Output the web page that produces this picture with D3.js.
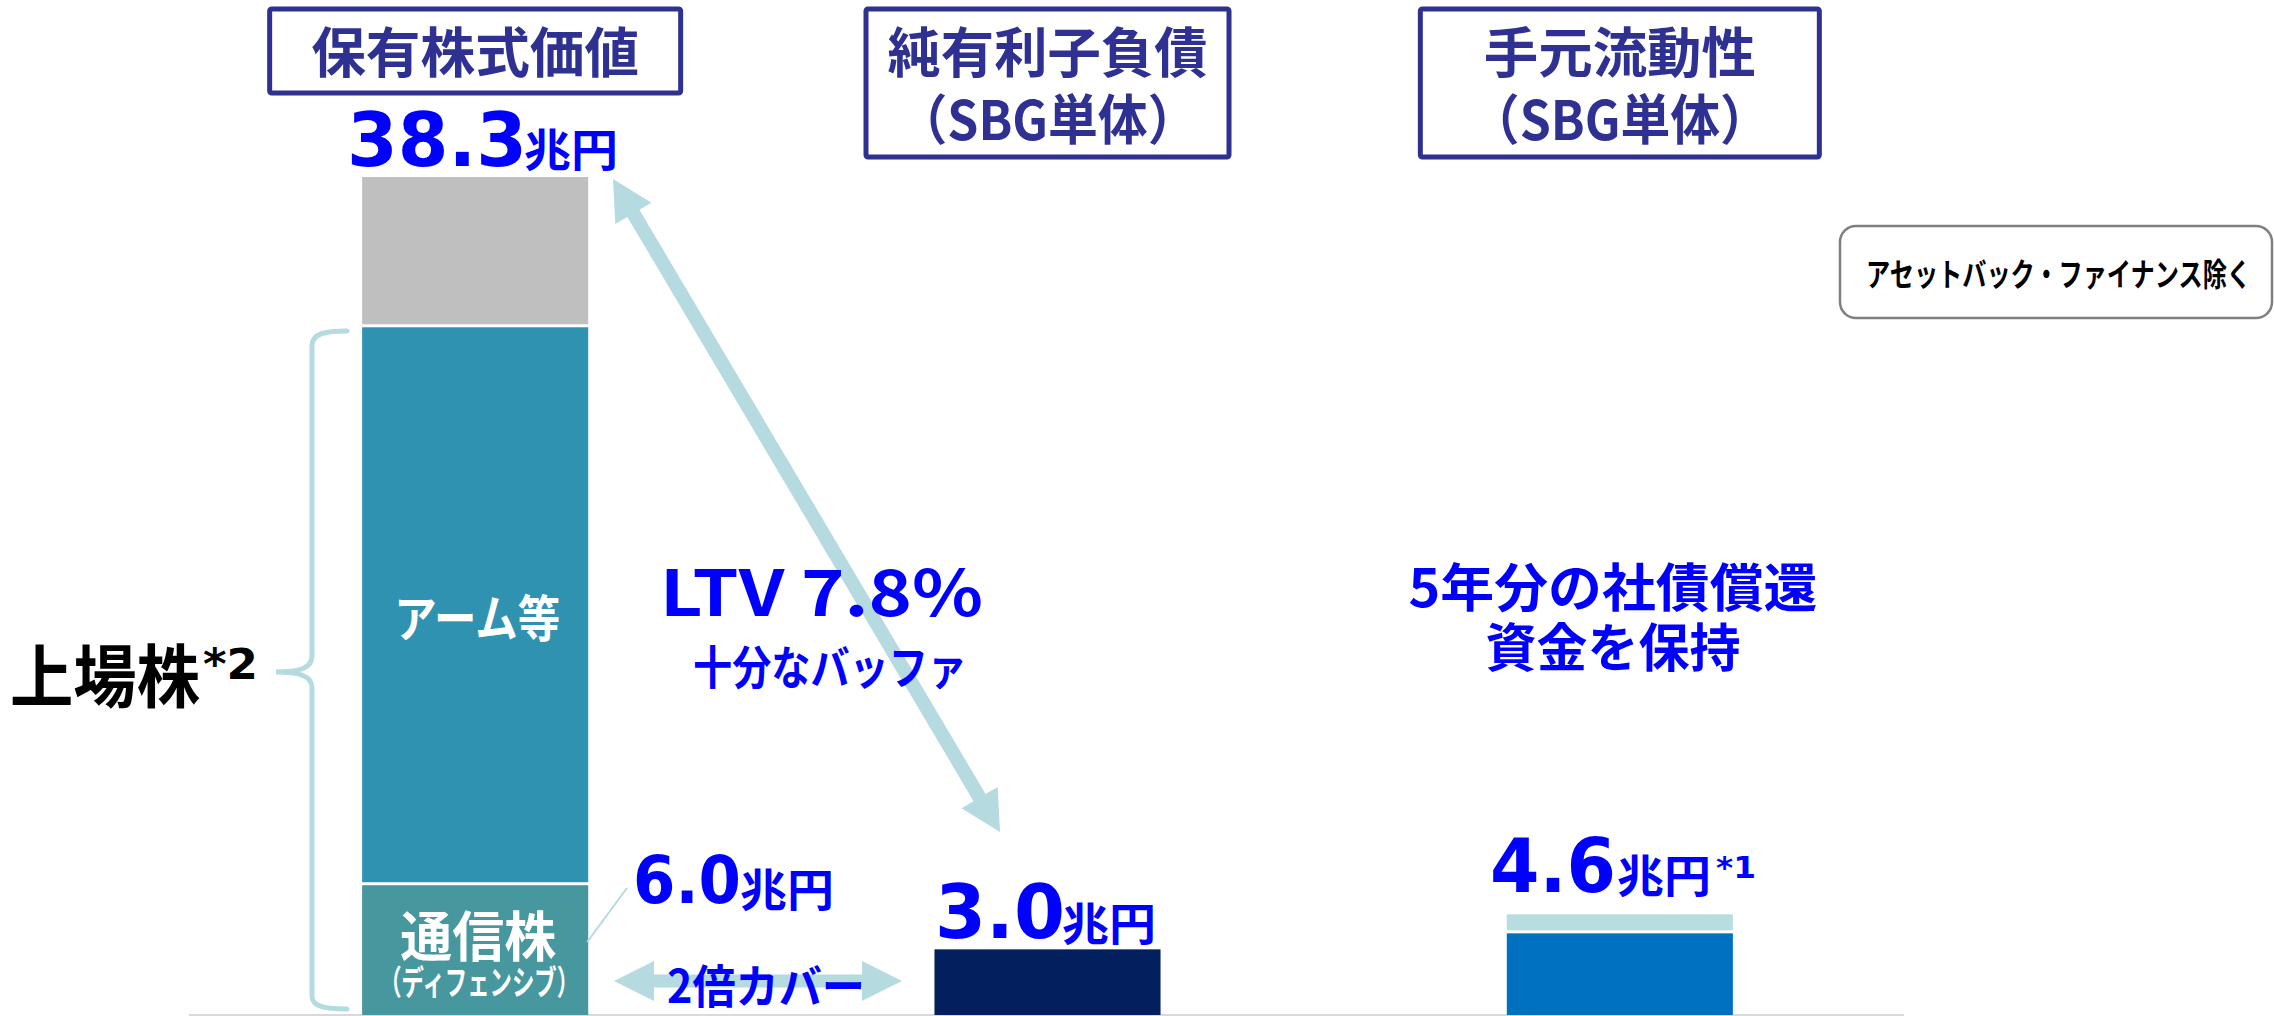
<!DOCTYPE html>
<html><head><meta charset="utf-8">
<script src="https://cdn.jsdelivr.net/npm/d3@7"></script>
<style>html,body{margin:0;padding:0;background:#fff;overflow:hidden}svg{display:block}</style>
</head><body>
<script>
// ---- data ----
const categories = ["保有株式価値", "純有利子負債", "手元流動性"];
const titleLines = [["保有株式価値"], ["純有利子負債", "（SBG単体）"], ["手元流動性", "（SBG単体）"]];
const segmentNames = [["通信株", "アーム等", "その他"], ["純有利子負債"], ["手元流動性", "追加流動性"]];
const segmentValues = [[6.0, 25.5, 6.8], [3.0], [3.8, 0.8]];
const totalLabels = ["38.3", "3.0", "4.6"];
const unitLabel = "兆円";
const telecomLabel = "6.0";
const ltvLabel = "LTV 7.8%";
const ltvSub = "十分なバッファ";
const coverLabel = "2倍カバー";
const liquidityNote = ["5年分の社債償還", "資金を保持"];
const listedLabel = "上場株";
const noteBox = "アセットバック・ファイナンス除く";

// ---- styles ----
const segColors = [["#46979E", "#2E92B0", "#BFBFBF"], ["#031F5E"], ["#0070C0", "#B7DDE1"]];
const navy = "#2E3192", blue = "#0000FF", pale = "#B5DADF";
const W = 2274, H = 1016;
const CJK = "'Noto Sans CJK JP','Noto Sans',sans-serif";
const NUM = "'DejaVu Sans',sans-serif";

const svg = d3.select("body").append("svg").attr("width", W).attr("height", H);

const x = d3.scaleBand().domain(categories).range([189, 1906]).paddingInner(0.605).paddingOuter(0.3025);
const y = d3.scaleLinear().domain([0, 38.3]).range([1015, 177]);
const cx = i => x(categories[i]) + x.bandwidth() / 2;

function txt(str, px, py, size, len, opts = {}) {
  const t = svg.append("text").text(str)
    .attr("x", px).attr("y", py)
    .attr("font-family", opts.font || CJK).attr("font-weight", 700)
    .attr("font-size", size).attr("fill", opts.fill || blue)
    .attr("text-anchor", opts.anchor || "start");
  if (opts.central) t.attr("dominant-baseline", "central");
  if (len) t.attr("textLength", len).attr("lengthAdjust", "spacingAndGlyphs");
  return t;
}

// baseline
svg.append("line").attr("x1", 189).attr("x2", 1904).attr("y1", y(0)).attr("y2", y(0))
  .attr("stroke", "#D9D9D9").attr("stroke-width", 2);

// stacked bars
categories.forEach((c, i) => {
  const vals = segmentValues[i];
  const cum = d3.cumsum(vals);
  vals.forEach((v, j) => {
    const lo = j === 0 ? 0 : cum[j - 1];
    const hi = cum[j];
    const top = y(hi) + (j < vals.length - 1 ? 1.5 : 0);
    const bot = y(lo) - (j > 0 ? 1.5 : 0);
    svg.append("rect").attr("x", x(c)).attr("width", x.bandwidth())
      .attr("y", top).attr("height", bot - top).attr("fill", segColors[i][j]);
  });
});

// title boxes
const boxDims = [[411, 84], [363, 148], [399, 148]];
titleLines.forEach((lines, i) => {
  const [bw, bh] = boxDims[i];
  svg.append("rect").attr("x", cx(i) - bw / 2).attr("y", 9).attr("width", bw).attr("height", bh)
    .attr("fill", "none").attr("stroke", navy).attr("stroke-width", 5).attr("rx", 2);
  const lens = [[328], [320, 300], [272, 300]][i];
  lines.forEach((l, k) => {
    txt(l, cx(i), 49 + k * 67, 54, lens[k], { fill: navy, anchor: "middle", central: true });
  });
});

// total labels
const totalPos = [[347, 166, 180], [935, 938, 130], [1490, 892, 126]];
const unitPos = [[524, 147, 94], [1062, 921, 94], [1617, 873, 94]];
totalLabels.forEach((l, i) => {
  const [tx, ty, tl] = totalPos[i];
  txt(l, tx, ty, 74, tl, { font: NUM });
  const [ux, uy, ul] = unitPos[i];
  txt(unitLabel, ux, uy, 45, ul, { central: true });
});
txt("*1", 1716, 878, 30, 40, { font: NUM });

// telecom 6.0 label and connector
txt(telecomLabel, 633, 903, 66, 108, { font: NUM });
txt(unitLabel, 740, 887, 45, 94, { central: true });
svg.append("line").attr("x1", x(categories[0]) + x.bandwidth() - 1).attr("y1", 942)
  .attr("x2", 627).attr("y2", 888).attr("stroke", pale).attr("stroke-width", 2);

// in-bar labels
const armMid = (y(segmentValues[0][0]) + y(segmentValues[0][0] + segmentValues[0][1])) / 2;
txt(segmentNames[0][1], cx(0) + 2, armMid + 10, 50, 166, { fill: "#fff", anchor: "middle", central: true });
txt(segmentNames[0][0], cx(0) + 3, 933, 54, 156, { fill: "#fff", anchor: "middle", central: true });
txt("（ディフェンシブ）", cx(0) + 4, 980, 34, 200, { fill: "#fff", anchor: "middle", central: true });

// bracket for listed shares
svg.append("path")
  .attr("d", "M347,331 C326,331 312,333 312,346 L312,656 C312,668 300,672 276,672 C300,672 312,676 312,688 L312,996 C312,1007 326,1009 347,1009")
  .attr("fill", "none").attr("stroke", pale).attr("stroke-width", 5).attr("stroke-linecap", "round");
txt(listedLabel, 10, 672, 68, 190, { fill: "#000", central: true });
txt("*2", 203, 679, 43, 55, { fill: "#000", font: NUM });

// double arrows
function doubleArrow(x1, y1, x2, y2, shaft, headLen, headHalf) {
  const dx = x2 - x1, dy = y2 - y1, L = Math.hypot(dx, dy);
  const ux = dx / L, uy = dy / L, nx = -uy, ny = ux;
  const b1x = x1 + ux * headLen, b1y = y1 + uy * headLen;
  const b2x = x2 - ux * headLen, b2y = y2 - uy * headLen;
  const s = shaft / 2;
  const pts = [
    [x1, y1],
    [b1x + nx * headHalf, b1y + ny * headHalf],
    [b1x + nx * s, b1y + ny * s],
    [b2x + nx * s, b2y + ny * s],
    [b2x + nx * headHalf, b2y + ny * headHalf],
    [x2, y2],
    [b2x - nx * headHalf, b2y - ny * headHalf],
    [b2x - nx * s, b2y - ny * s],
    [b1x - nx * s, b1y - ny * s],
    [b1x - nx * headHalf, b1y - ny * headHalf]
  ];
  svg.append("polygon").attr("points", pts.map(d => d.join(",")).join(" ")).attr("fill", pale);
}
doubleArrow(613, 179, 1000, 832, 14, 40, 21);
txt(ltvLabel, 660, 616, 64, 323);
txt(ltvSub, 693, 664, 46, 274, { central: true });

doubleArrow(614, 981, 902, 981, 13, 40, 20);
txt(coverLabel, 667, 983, 46, 198, { central: true });

// liquidity note
txt(liquidityNote[0], 1613, 584, 52, 409, { anchor: "middle", central: true });
txt(liquidityNote[1], 1613, 644, 52, 255, { anchor: "middle", central: true });

// note box
svg.append("rect").attr("x", 1840).attr("y", 226).attr("width", 432).attr("height", 92).attr("rx", 16)
  .attr("fill", "#fff").attr("stroke", "#7F7F7F").attr("stroke-width", 2.5);
txt(noteBox, 1866, 272, 32, 385, { fill: "#000", central: true });
</script>
</body></html>
